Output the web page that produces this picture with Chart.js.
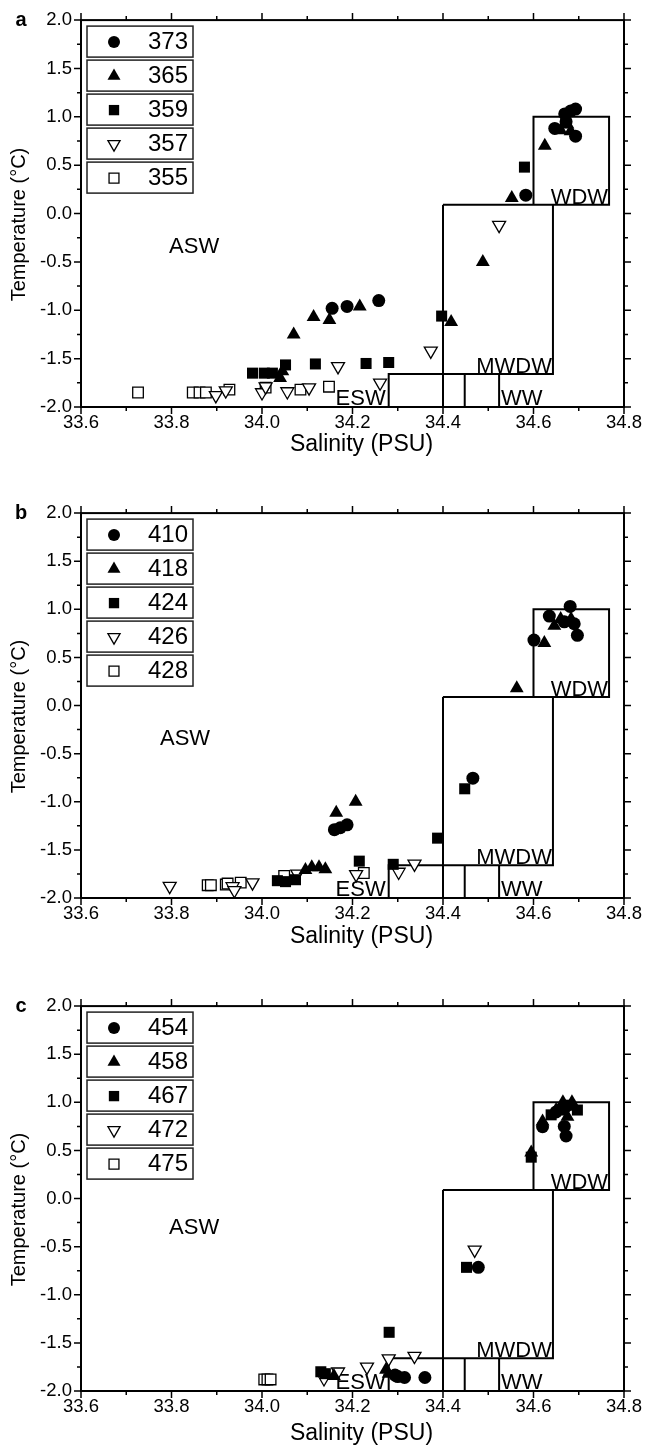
<!DOCTYPE html>
<html>
<head>
<meta charset="utf-8">
<script src="https://cdn.jsdelivr.net/npm/chart.js@4/dist/chart.umd.min.js"></script>
<style>
  body { margin: 0; background: #fff; }
  .panel { position: absolute; left: 0; width: 647px; }
</style>
</head>
<body>
<div class="panel" style="top:0;height:493px"><canvas id="chartA" width="647" height="493"></canvas></div>
<div class="panel" style="top:493px;height:493px"><canvas id="chartB" width="647" height="493"></canvas></div>
<div class="panel" style="top:986px;height:469px"><canvas id="chartC" width="647" height="469"></canvas></div>
<script>
// [salinity, temperature] per station
const a373 = [[34.155,-0.98],[34.188,-0.96],[34.258,-0.90],[34.583,0.19],[34.647,0.88],[34.669,1.03],[34.682,1.06],[34.693,1.08],[34.693,0.80],[34.672,0.95]];
const a365 = [[34.040,-1.70],[34.045,-1.63],[34.070,-1.25],[34.114,-1.07],[34.149,-1.10],[34.216,-0.96],[34.418,-1.12],[34.488,-0.50],[34.552,0.16],[34.625,0.70],[34.660,0.86],[34.675,0.92],[34.682,0.85]];
const a359 = [[33.979,-1.65],[34.005,-1.65],[34.023,-1.65],[34.052,-1.565],[34.118,-1.555],[34.230,-1.55],[34.280,-1.54],[34.397,-1.06],[34.580,0.48]];
const a357 = [[33.898,-1.88],[33.920,-1.83],[34.000,-1.85],[34.008,-1.79],[34.056,-1.84],[34.104,-1.80],[34.168,-1.58],[34.261,-1.75],[34.373,-1.42],[34.524,-0.12]];
const a355 = [[33.726,-1.85],[33.847,-1.85],[33.862,-1.85],[33.876,-1.85],[33.928,-1.82],[34.008,-1.80],[34.085,-1.82],[34.148,-1.79]];

const b410 = [[34.160,-1.29],[34.173,-1.27],[34.188,-1.24],[34.466,-0.755],[34.601,0.68],[34.635,0.93],[34.668,0.87],[34.681,1.03],[34.690,0.85],[34.697,0.73]];
const b418 = [[34.096,-1.71],[34.110,-1.68],[34.126,-1.68],[34.140,-1.70],[34.164,-1.115],[34.207,-1.00],[34.563,0.18],[34.624,0.65],[34.646,0.83],[34.660,0.90],[34.683,0.90]];
const b424 = [[34.034,-1.82],[34.052,-1.83],[34.074,-1.81],[34.215,-1.617],[34.290,-1.65],[34.388,-1.378],[34.448,-0.865]];
const b426 = [[33.796,-1.877],[33.935,-1.88],[33.939,-1.92],[33.979,-1.84],[34.078,-1.75],[34.208,-1.754],[34.302,-1.73],[34.337,-1.645]];
const b428 = [[33.880,-1.867],[33.887,-1.867],[33.920,-1.86],[33.924,-1.85],[33.953,-1.84],[34.049,-1.77],[34.225,-1.74]];

const c454 = [[34.294,-1.835],[34.300,-1.85],[34.315,-1.86],[34.360,-1.86],[34.478,-0.715],[34.620,0.746],[34.668,0.75],[34.672,0.65],[34.650,0.90],[34.670,0.95]];
const c458 = [[34.159,-1.845],[34.274,-1.78],[34.280,-1.82],[34.595,0.478],[34.620,0.80],[34.650,0.92],[34.665,1.00],[34.685,1.00],[34.675,0.85]];
const c467 = [[34.130,-1.80],[34.140,-1.82],[34.281,-1.39],[34.452,-0.715],[34.595,0.43],[34.639,0.87],[34.660,0.92],[34.697,0.92],[34.680,0.97]];
const c472 = [[34.137,-1.87],[34.168,-1.80],[34.232,-1.75],[34.280,-1.664],[34.337,-1.637],[34.470,-0.533]];
const c475 = [[34.005,-1.88],[34.012,-1.88],[34.019,-1.88]];

const stationsA = ['373', '365', '359', '357', '355'];
const stationsB = ['410', '418', '424', '426', '428'];
const stationsC = ['454', '458', '467', '472', '475'];

const salTicks = [33.6, 33.8, 34.0, 34.2, 34.4, 34.6, 34.8];
const tempTicks = [-2.0, -1.5, -1.0, -0.5, 0.0, 0.5, 1.0, 1.5, 2.0];

// water mass boundaries, as polylines of [salinity, temperature]
const massLines = [
  [[34.4, 0.09], [34.767, 0.09], [34.767, 1.0], [34.6, 1.0], [34.6, 0.09]],
  [[34.4, -2.0], [34.4, 0.09]],
  [[34.643, 0.09], [34.643, -1.66], [34.28, -1.66], [34.28, -2.0]],
  [[34.448, -1.66], [34.448, -2.0]],
  [[34.524, -1.66], [34.524, -2.0]]
];

const FONT = '"Liberation Sans", Arial, sans-serif';

const markers = [
  { pointStyle: 'circle', radius: 6.5, rotation: 0, fill: '#000', borderWidth: 0 },
  { pointStyle: 'triangle', radius: 8, rotation: 0, fill: '#000', borderWidth: 0 },
  { pointStyle: 'rect', radius: 7.8, rotation: 0, fill: '#000', borderWidth: 0 },
  { pointStyle: 'triangle', radius: 7.5, rotation: 180, fill: '#fff', borderWidth: 1.3 },
  { pointStyle: 'rect', radius: 7.5, rotation: 0, fill: '#fff', borderWidth: 1.3 }
];

function midpoints(arr) {
  const out = [];
  for (let i = 0; i < arr.length - 1; i++) out.push((arr[i] + arr[i + 1]) / 2);
  return out;
}

const extras = {
  id: 'extras',
  beforeDatasetsDraw(chart, args, opts) {
    const { ctx, chartArea: ca, scales: { x, y } } = chart;
    ctx.save();
    ctx.strokeStyle = '#000';
    ctx.lineWidth = 2;
    massLines.forEach(line => {
      ctx.beginPath();
      line.forEach(([s, t], i) => {
        const px = x.getPixelForValue(s), py = y.getPixelForValue(t);
        if (i) ctx.lineTo(px, py); else ctx.moveTo(px, py);
      });
      ctx.stroke();
    });

    // water mass names
    ctx.fillStyle = '#000';
    ctx.font = '22px ' + FONT;
    ctx.textBaseline = 'alphabetic';
    ctx.textAlign = 'right';
    ctx.fillText('WDW', x.getPixelForValue(34.767) - 1, y.getPixelForValue(0.09) - 1);
    ctx.fillText('MWDW', x.getPixelForValue(34.643) - 1, y.getPixelForValue(-1.66) - 1);
    ctx.fillText('ESW', x.getPixelForValue(34.28) - 3, y.getPixelForValue(-2.0) - 2);
    ctx.textAlign = 'left';
    ctx.fillText('WW', x.getPixelForValue(34.524) + 2, y.getPixelForValue(-2.0) - 2);
    ctx.textAlign = 'center';
    ctx.textBaseline = 'middle';
    ctx.fillText('ASW', x.getPixelForValue(opts.asw[0]), y.getPixelForValue(opts.asw[1]));

    // frame and ticks
    ctx.lineWidth = 2;
    ctx.strokeRect(ca.left, ca.top, ca.width, ca.height);
    ctx.lineWidth = 1.5;
    ctx.beginPath();
    const xt = (v, len) => {
      const px = x.getPixelForValue(v);
      ctx.moveTo(px, ca.bottom); ctx.lineTo(px, ca.bottom + len);
      ctx.moveTo(px, ca.top); ctx.lineTo(px, ca.top - len);
    };
    const yt = (v, len) => {
      const py = y.getPixelForValue(v);
      ctx.moveTo(ca.left, py); ctx.lineTo(ca.left - len, py);
      ctx.moveTo(ca.right, py); ctx.lineTo(ca.right + len, py);
    };
    salTicks.forEach(v => xt(v, 7));
    midpoints(salTicks).forEach(v => xt(v, 4));
    tempTicks.forEach(v => yt(v, 7));
    midpoints(tempTicks).forEach(v => yt(v, 4));
    ctx.stroke();

    // axis titles and panel letter
    ctx.font = '23px ' + FONT;
    ctx.textAlign = 'center';
    ctx.textBaseline = 'middle';
    ctx.fillText('Salinity (PSU)', ca.left + ca.width / 2 + 9, ca.bottom + opts.xTitleGap);
    ctx.save();
    ctx.translate(19, ca.top + ca.height / 2 + 11);
    ctx.rotate(-Math.PI / 2);
    ctx.font = '20px ' + FONT;
    ctx.fillText('Temperature (\u00B0C)', 0, 0);
    ctx.restore();
    ctx.font = 'bold 20px ' + FONT;
    ctx.fillText(opts.letter, 21, ca.top);
    ctx.restore();
  },
  afterDatasetsDraw(chart) {
    const { ctx, chartArea: ca } = chart;
    ctx.save();
    chart.data.datasets.forEach((ds, i) => {
      const bx = ca.left + 6, by = ca.top + 6 + i * 34;
      ctx.fillStyle = '#fff';
      ctx.fillRect(bx, by, 106, 31);
      ctx.strokeStyle = '#222';
      ctx.lineWidth = 1.5;
      ctx.strokeRect(bx, by, 106, 31);
      const m = markers[i];
      ctx.fillStyle = m.fill;
      ctx.strokeStyle = '#000';
      ctx.lineWidth = m.borderWidth;
      Chart.helpers.drawPoint(ctx, {
        pointStyle: m.pointStyle, radius: m.radius - 0.5, rotation: m.rotation, borderWidth: m.borderWidth
      }, bx + 27, by + 16);
      ctx.fillStyle = '#000';
      ctx.font = '24px ' + FONT;
      ctx.textAlign = 'right';
      ctx.textBaseline = 'middle';
      ctx.fillText(ds.label, bx + 101, by + 16.5);
    });
    ctx.restore();
  }
};

function makePanel(id, letter, names, series, asw, top, plotH, height, xTitleGap) {
  new Chart(document.getElementById(id), {
    type: 'scatter',
    data: {
      datasets: series.map((pts, i) => ({
        label: names[i],
        data: pts.map(([s, t]) => ({ x: s, y: t })),
        pointStyle: markers[i].pointStyle,
        pointRadius: markers[i].radius,
        pointRotation: markers[i].rotation,
        pointBackgroundColor: markers[i].fill,
        pointBorderColor: '#000',
        pointBorderWidth: markers[i].borderWidth
      }))
    },
    options: {
      responsive: false,
      animation: false,
      layout: { padding: { left: 0, right: 20, top: top, bottom: 0 } },
      plugins: {
        legend: { display: false },
        tooltip: { enabled: false },
        extras: { letter: letter, asw: asw, xTitleGap: xTitleGap }
      },
      scales: {
        x: {
          type: 'linear', min: 33.6, max: 34.8,
          grid: { display: false, drawTicks: false },
          border: { display: false },
          afterBuildTicks: s => { s.ticks = salTicks.map(v => ({ value: v })); },
          afterFit: s => { s.height = height - top - plotH; },
          ticks: {
            padding: 5, color: '#000', autoSkip: false, maxRotation: 0,
            font: { family: FONT, size: 18.5 },
            callback: v => Number(v).toFixed(1)
          }
        },
        y: {
          type: 'linear', min: -2, max: 2,
          grid: { display: false, drawTicks: false },
          border: { display: false },
          afterBuildTicks: s => { s.ticks = tempTicks.map(v => ({ value: v })); },
          afterFit: s => { s.width = 81; },
          ticks: {
            padding: 9, color: '#000', autoSkip: false,
            font: { family: FONT, size: 18.5 },
            callback: v => Number(v).toFixed(1)
          }
        }
      }
    },
    plugins: [extras]
  });
}

makePanel('chartA', 'a', stationsA, [a373, a365, a359, a357, a355], [33.85, -0.35], 15, 392, 493, 38);
makePanel('chartB', 'b', stationsB, [b410, b418, b424, b426, b428], [33.83, -0.35], 15, 390, 493, 39);
makePanel('chartC', 'c', stationsC, [c454, c458, c467, c472, c475], [33.85, -0.31], 16, 389, 469, 43);
</script>
</body>
</html>
